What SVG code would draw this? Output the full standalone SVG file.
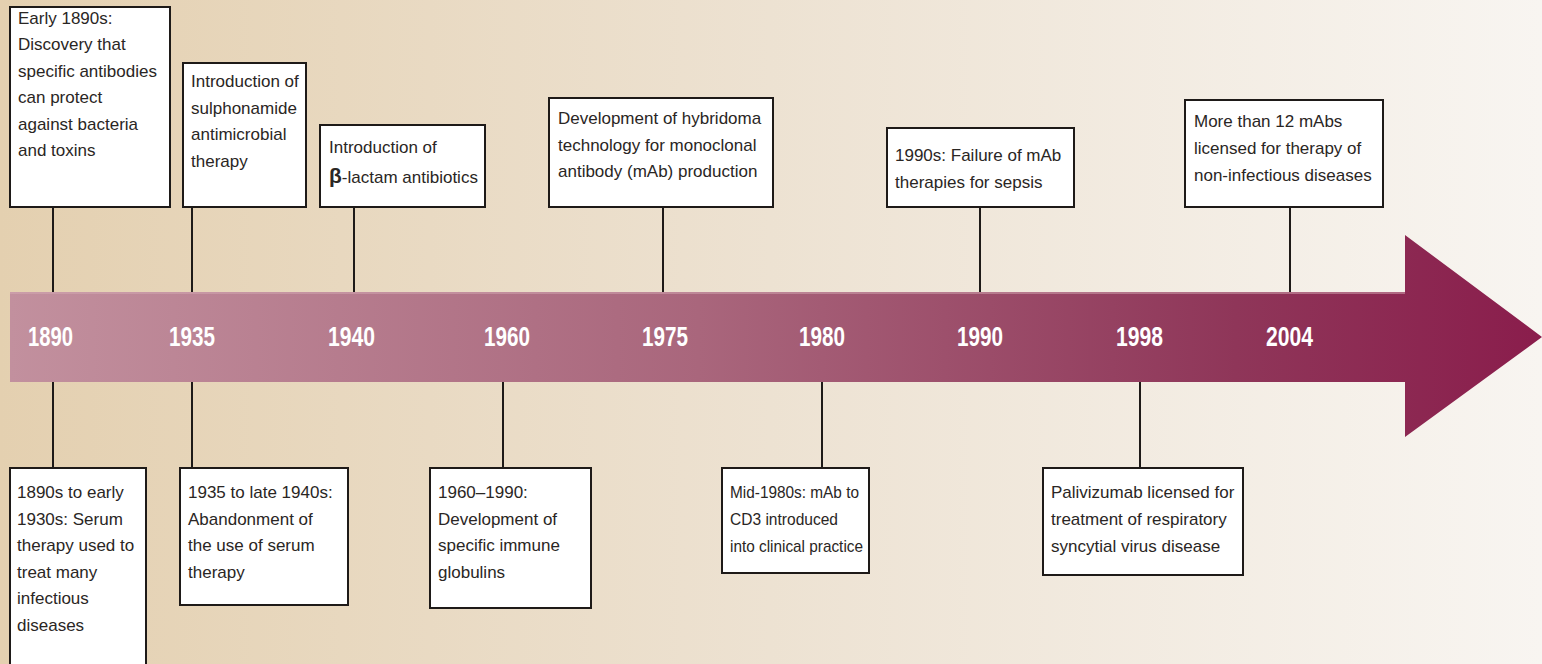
<svg xmlns="http://www.w3.org/2000/svg" width="1542" height="664" viewBox="0 0 1542 664">
<defs>
<linearGradient id="bg" x1="0" y1="0" x2="1" y2="0">
<stop offset="0" stop-color="#e4d0b0"/>
<stop offset="0.5" stop-color="#ede2d2"/>
<stop offset="1" stop-color="#f8f5f1"/>
</linearGradient>
<linearGradient id="arr" gradientUnits="userSpaceOnUse" x1="10" y1="0" x2="1542" y2="0">
<stop offset="0" stop-color="#c2909e"/>
<stop offset="0.45" stop-color="#a9667c"/>
<stop offset="0.8" stop-color="#8f3659"/>
<stop offset="1" stop-color="#8a1d4c"/>
</linearGradient>
<style>
.box{fill:#ffffff;stroke:#1e1a18;stroke-width:2}
.t{font-family:"Liberation Sans",Arial,sans-serif;font-size:17px;fill:#2a2624}
.yr{font-family:"Liberation Sans",Arial,sans-serif;font-size:27px;font-weight:bold;fill:#ffffff}
.ln{stroke:#1e1a18;stroke-width:2;fill:none}
</style>
</defs>
<rect x="0" y="0" width="1542" height="664" fill="url(#bg)"/>
<g id="timeline-arrow">
<polygon points="10,292 1405,292 1405,235 1542,337 1405,437 1405,382 10,382" fill="url(#arr)"/>
<line x1="10" y1="293" x2="1405" y2="293" stroke="#d4a9b3" stroke-opacity="0.5" stroke-width="2"/>
</g>
<g id="connectors">
<line class="ln" x1="53" y1="207" x2="53" y2="292"/>
<line class="ln" x1="192" y1="207" x2="192" y2="292"/>
<line class="ln" x1="354" y1="207" x2="354" y2="292"/>
<line class="ln" x1="663" y1="207" x2="663" y2="292"/>
<line class="ln" x1="980" y1="207" x2="980" y2="292"/>
<line class="ln" x1="1290" y1="207" x2="1290" y2="292"/>
<line class="ln" x1="53" y1="382" x2="53" y2="468"/>
<line class="ln" x1="192" y1="382" x2="192" y2="468"/>
<line class="ln" x1="503" y1="382" x2="503" y2="468"/>
<line class="ln" x1="822" y1="382" x2="822" y2="468"/>
<line class="ln" x1="1140" y1="382" x2="1140" y2="468"/>
</g>
<g id="years">
<text class="yr" x="28" y="346" textLength="45" lengthAdjust="spacingAndGlyphs">1890</text>
<text class="yr" x="169" y="346" textLength="46" lengthAdjust="spacingAndGlyphs">1935</text>
<text class="yr" x="328" y="346" textLength="47" lengthAdjust="spacingAndGlyphs">1940</text>
<text class="yr" x="484" y="346" textLength="46" lengthAdjust="spacingAndGlyphs">1960</text>
<text class="yr" x="642" y="346" textLength="46" lengthAdjust="spacingAndGlyphs">1975</text>
<text class="yr" x="799" y="346" textLength="46" lengthAdjust="spacingAndGlyphs">1980</text>
<text class="yr" x="957" y="346" textLength="46" lengthAdjust="spacingAndGlyphs">1990</text>
<text class="yr" x="1116" y="346" textLength="47" lengthAdjust="spacingAndGlyphs">1998</text>
<text class="yr" x="1266" y="346" textLength="47" lengthAdjust="spacingAndGlyphs">2004</text>
</g>
<g id="n1890-top">
<rect class="box" x="10" y="7" width="160" height="200"/>
<text class="t" x="18" y="24">Early 1890s:</text>
<text class="t" x="18" y="50">Discovery that</text>
<text class="t" x="18" y="76.5">specific antibodies</text>
<text class="t" x="18" y="103">can protect</text>
<text class="t" x="18" y="129.5">against bacteria</text>
<text class="t" x="18" y="156">and toxins</text>
</g>
<g id="n1935-top">
<rect class="box" x="183" y="63" width="123" height="144"/>
<text class="t" x="191" y="87">Introduction of</text>
<text class="t" x="191" y="113.5">sulphonamide</text>
<text class="t" x="191" y="140">antimicrobial</text>
<text class="t" x="191" y="166.5">therapy</text>
</g>
<g id="n1940-top">
<rect class="box" x="320" y="125" width="165" height="82"/>
<text class="t" x="329" y="153">Introduction of</text>
<text class="t" x="329" y="183"><tspan font-size="21" font-weight="bold">β</tspan>-lactam antibiotics</text>
</g>
<g id="n1975-top">
<rect class="box" x="549" y="98" width="224" height="109"/>
<text class="t" x="558" y="124">Development of hybridoma</text>
<text class="t" x="558" y="150.5">technology for monoclonal</text>
<text class="t" x="558" y="177">antibody (mAb) production</text>
</g>
<g id="n1990-top">
<rect class="box" x="887" y="128" width="187" height="79"/>
<text class="t" x="895" y="161">1990s: Failure of mAb</text>
<text class="t" x="895" y="187.5">therapies for sepsis</text>
</g>
<g id="n2004-top">
<rect class="box" x="1185" y="100" width="198" height="107"/>
<text class="t" x="1194" y="127">More than 12 mAbs</text>
<text class="t" x="1194" y="154">licensed for therapy of</text>
<text class="t" x="1194" y="181">non-infectious diseases</text>
</g>
<g id="n1890-bottom">
<rect class="box" x="10" y="468" width="136" height="210"/>
<text class="t" x="17" y="498">1890s to early</text>
<text class="t" x="17" y="524.5">1930s: Serum</text>
<text class="t" x="17" y="551">therapy used to</text>
<text class="t" x="17" y="577.5">treat many</text>
<text class="t" x="17" y="604">infectious</text>
<text class="t" x="17" y="630.5">diseases</text>
</g>
<g id="n1935-bottom">
<rect class="box" x="180" y="468" width="168" height="137"/>
<text class="t" x="188" y="498">1935 to late 1940s:</text>
<text class="t" x="188" y="524.5">Abandonment of</text>
<text class="t" x="188" y="551">the use of serum</text>
<text class="t" x="188" y="577.5">therapy</text>
</g>
<g id="n1960-bottom">
<rect class="box" x="430" y="468" width="161" height="140"/>
<text class="t" x="438" y="498">1960–1990:</text>
<text class="t" x="438" y="524.5">Development of</text>
<text class="t" x="438" y="551">specific immune</text>
<text class="t" x="438" y="577.5">globulins</text>
</g>
<g id="n1980-bottom">
<rect class="box" x="722" y="468" width="147" height="105"/>
<text class="t" x="730" y="498" textLength="129" lengthAdjust="spacingAndGlyphs">Mid-1980s: mAb to</text>
<text class="t" x="730" y="525" textLength="108" lengthAdjust="spacingAndGlyphs">CD3 introduced</text>
<text class="t" x="730" y="552" textLength="133" lengthAdjust="spacingAndGlyphs">into clinical practice</text>
</g>
<g id="n1998-bottom">
<rect class="box" x="1043" y="468" width="200" height="107"/>
<text class="t" x="1051" y="498">Palivizumab licensed for</text>
<text class="t" x="1051" y="525">treatment of respiratory</text>
<text class="t" x="1051" y="552">syncytial virus disease</text>
</g>
</svg>
